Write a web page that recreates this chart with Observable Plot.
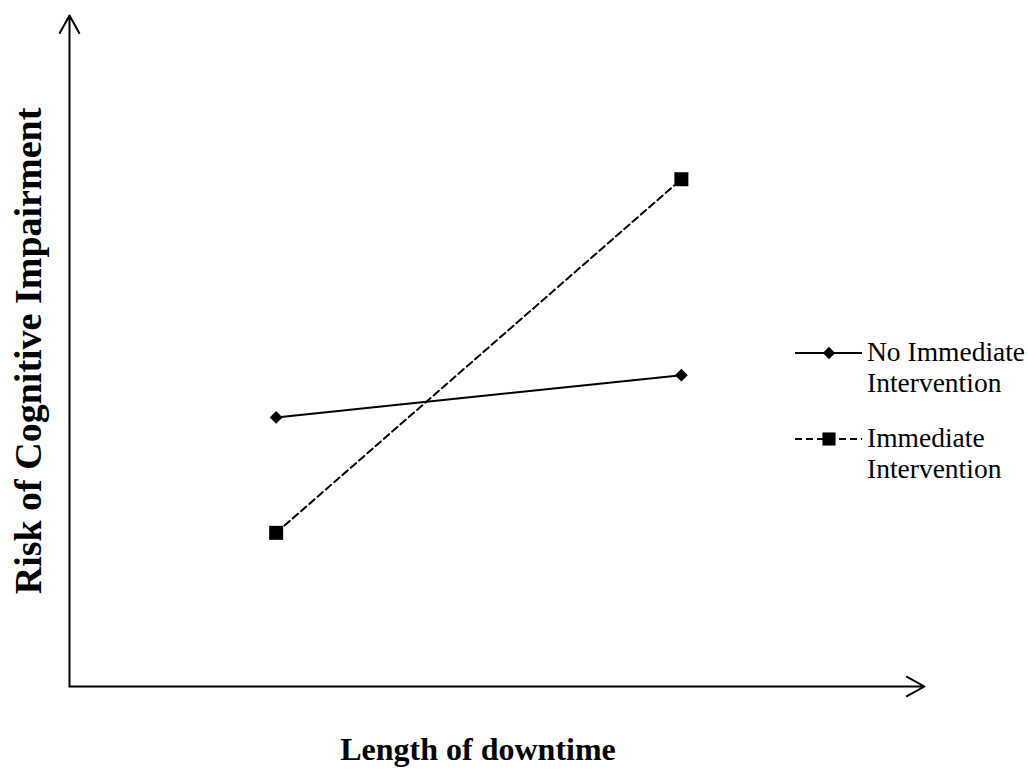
<!DOCTYPE html>
<html>
<head>
<meta charset="utf-8">
<script src="https://cdn.jsdelivr.net/npm/d3@7"></script>
<script src="https://cdn.jsdelivr.net/npm/@observablehq/plot@0.6"></script>
<style>
  html, body { margin: 0; padding: 0; background: #fff; }
  #wrap { position: relative; width: 1028px; height: 769px; overflow: hidden; }
  #legend { position: absolute; left: 0; top: 0; }
</style>
</head>
<body>
<div id="wrap"></div>
<script>
// ---- data ----
const downtime = [1, 2];                 // short, long (unlabelled positions)
const seriesNames = ["No Immediate Intervention", "Immediate Intervention"];
const noImmediate = [4.01, 4.64];
const immediate = [2.29, 7.56];
const legendLines = [["No Immediate", "Intervention"], ["Immediate", "Intervention"]];
const xLabel = "Length of downtime";
const yLabel = "Risk of Cognitive Impairment";
const xDomain = [0.49, 2.6];
const yDomain = [0, 10];

const rows = [];
downtime.forEach((d, i) => {
  rows.push({downtime: d, risk: noImmediate[i], series: seriesNames[0]});
  rows.push({downtime: d, risk: immediate[i], series: seriesNames[1]});
});
const rowsA = rows.filter(r => r.series === seriesNames[0]);
const rowsB = rows.filter(r => r.series === seriesNames[1]);

const serif = "'Liberation Serif', 'Times New Roman', serif";

const chart = Plot.plot({
  width: 1028,
  height: 769,
  marginLeft: 69,
  marginRight: 104,
  marginTop: 15,
  marginBottom: 83,
  style: {background: "#fff", fontFamily: serif},
  x: {domain: xDomain, axis: null},
  y: {domain: yDomain, axis: null},
  marks: [
    // axes with open arrowheads
    Plot.arrow([0], {x1: xDomain[0], y1: yDomain[0], x2: xDomain[0], y2: yDomain[1],
      stroke: "#000", strokeWidth: 2, headLength: 15, headAngle: 58}),
    Plot.arrow([0], {x1: xDomain[0], y1: yDomain[0], x2: xDomain[1], y2: yDomain[0],
      stroke: "#000", strokeWidth: 2, headLength: 15, headAngle: 58}),
    // series lines
    Plot.line(rowsA, {x: "downtime", y: "risk", stroke: "#000", strokeWidth: 2}),
    Plot.line(rowsB, {x: "downtime", y: "risk", stroke: "#000", strokeWidth: 2, strokeDasharray: "7,4"}),
    Plot.dot(rowsA, {x: "downtime", y: "risk", symbol: "diamond2", r: 5.8, fill: "#000", stroke: "none"}),
    Plot.dot(rowsB, {x: "downtime", y: "risk", symbol: "square", r: 7.9, fill: "#000", stroke: "none"}),
    // axis titles
    Plot.text([yLabel], {text: d => d, frameAnchor: "left", rotate: -90, dx: -41, dy: 0,
      textAnchor: "middle", lineAnchor: "middle", fontSize: 38, fontWeight: "bold", fill: "#000", fontFamily: serif}),
    Plot.text([xLabel], {text: d => d, frameAnchor: "bottom", dx: -19, dy: 63,
      textAnchor: "middle", lineAnchor: "middle", fontSize: 32, fontWeight: "bold", fill: "#000", fontFamily: serif})
  ]
});
document.getElementById("wrap").appendChild(chart);

// ---- legend ----
const lg = d3.select("#wrap").append("svg").attr("id", "legend")
  .attr("width", 1028).attr("height", 769);
const items = [
  {lineY: 353, dash: null, sym: "diamond", base: [361, 392]},
  {lineY: 439, dash: "7,4", sym: "square", base: [447, 478]}
];
items.forEach((it, i) => {
  lg.append("line").attr("x1", 795).attr("x2", 862).attr("y1", it.lineY).attr("y2", it.lineY)
    .attr("stroke", "#000").attr("stroke-width", 2).attr("stroke-dasharray", it.dash);
  const s = it.sym === "diamond" ? d3.symbolDiamond2 : d3.symbolSquare;
  const size = it.sym === "diamond" ? Math.PI * 5.6 * 5.6 : Math.PI * 7.4 * 7.4;
  lg.append("path").attr("d", d3.symbol(s, size)())
    .attr("transform", `translate(829,${it.lineY})`).attr("fill", "#000");
  legendLines[i].forEach((t, j) => {
    lg.append("text").attr("x", 867).attr("y", it.base[j]).text(t)
      .attr("font-family", serif).attr("font-size", 27.5).attr("fill", "#000");
  });
});
</script>
</body>
</html>
